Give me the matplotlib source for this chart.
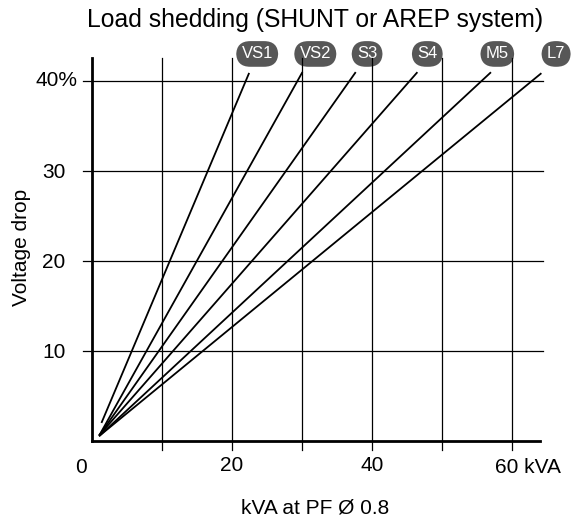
import matplotlib
matplotlib.use("Agg")
import matplotlib.pyplot as plt

# =========================
# データ
# =========================
names = ["VS1", "VS2", "S3", "S4", "M5", "L7"]
x_start = [1.4, 1.1, 1.1, 1.1, 1.1, 1.1]
y_start = [2.1, 0.7, 0.7, 0.7, 0.6, 0.6]
x_end = [22.4, 30.0, 37.6, 46.4, 56.9, 64.1]
y_end = [40.8, 40.9, 40.9, 40.9, 40.9, 40.8]
label_x = [23.6, 31.9, 39.3, 47.9, 57.9, 66.3]
label_y = 43.0

x_grid = [10, 20, 30, 40, 50, 60]
y_grid = [10, 20, 30, 40]
x_ticks = [20, 40]
y_ticks = [10, 20, 30]

plt.rcParams["font.family"] = ["Liberation Sans", "DejaVu Sans"]

fig = plt.figure(figsize=(5.72, 5.19), dpi=100)
ax = fig.add_axes([92 / 572, 78 / 519, 448 / 572, 383 / 519])
ax.set_xlim(0, 64)
ax.set_ylim(0, 42.55)

# =========================
# グリッド
# =========================
for xv in x_grid:
    ax.plot([xv, xv], [-1.0, 42.6], color="black", lw=0.9, clip_on=False, zorder=3)
for yv in y_grid:
    ax.plot([-1.3, 64.4], [yv, yv], color="black", lw=0.9, clip_on=False, zorder=3)

# =========================
# 線とラベル
# =========================
for i in range(len(names)):
    ax.plot([x_start[i], x_end[i]], [y_start[i], y_end[i]], color="black",
            lw=1.3, clip_on=False, zorder=4)
    ax.text(label_x[i], label_y, names[i], color="white", fontsize=12,
            ha="center", va="center", zorder=2, clip_on=False,
            bbox=dict(boxstyle="round,pad=0.32,rounding_size=0.85",
                      fc="#575757", ec="none"))

# =========================
# 軸
# =========================
for s in ["top", "right"]:
    ax.spines[s].set_visible(False)
ax.spines["left"].set_linewidth(2)
ax.spines["bottom"].set_linewidth(2)
ax.tick_params(length=0, labelsize=15)
ax.tick_params(axis="x", pad=11)
ax.tick_params(axis="y", pad=19)
ax.set_xticks(x_ticks)
ax.set_xticklabels([str(v) for v in x_ticks])
ax.set_yticks(y_ticks)
ax.set_yticklabels([str(v) for v in y_ticks])

ax.text(-1.6, -2.9, "0", fontsize=15, ha="center", va="center", clip_on=False)
ax.text(57.6, -2.9, "60 kVA", fontsize=15, ha="left", va="center", clip_on=False)
ax.text(-2.0, 40, "40%", fontsize=15, ha="right", va="center", clip_on=False)

fig.text(315 / 572, 1 - 20 / 519, "Load shedding (SHUNT or AREP system)",
         fontsize=17.8, ha="center", va="center")
fig.text(315 / 572, 1 - 508 / 519, "kVA at PF Ø 0.8",
         fontsize=15, ha="center", va="center")
fig.text(22 / 572, 1 - 247 / 519, "Voltage drop", fontsize=15,
         ha="center", va="center", rotation=90)

plt.savefig("out.png", dpi=100)
plt.close()
